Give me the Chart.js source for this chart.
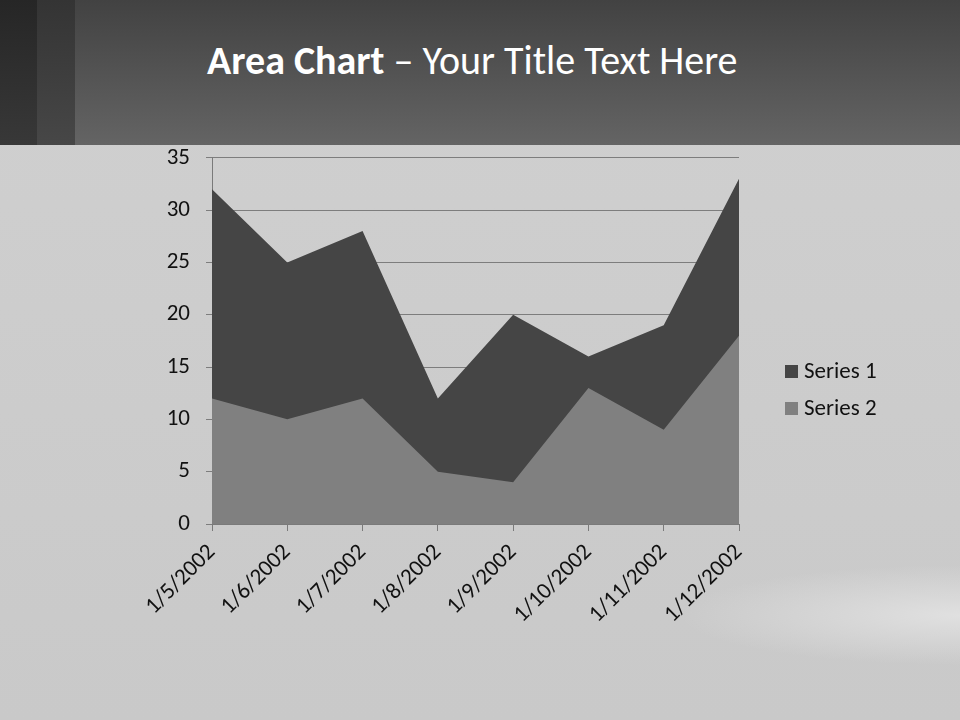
<!DOCTYPE html>
<html>
<head>
  <title>Area Chart</title>
  <script src="https://cdn.jsdelivr.net/npm/chart.js"></script>
  <style>
    body { margin: 0; width: 960px; height: 720px; position: relative; overflow: hidden;
      background: radial-gradient(ellipse 280px 50px at 960px 615px, #e0e0e0 0%, rgba(224,224,224,0) 100%),
                  linear-gradient(180deg, #d0d0d0 0%, #c9c9c9 100%);
      font-family: Carlito, Lato, sans-serif; }
    #header { position: absolute; left: 0; top: 0; width: 960px; height: 145px;
      background: linear-gradient(180deg, #424242 0%, #646464 100%); }
    #stripe1 { position: absolute; left: 0; top: 0; width: 37px; height: 145px;
      background: linear-gradient(180deg, #262626 0%, #383838 100%); }
    #stripe2 { position: absolute; left: 37px; top: 0; width: 38px; height: 145px;
      background: linear-gradient(180deg, #343434 0%, #474747 100%); }
    #title { position: absolute; left: 207px; top: 39px; color: #fff; font-size: 40px;
      white-space: nowrap; line-height: 44px; }
    #chartBox { position: absolute; left: 0; top: 128px; width: 960px; height: 592px; }
    #legend { position: absolute; left: 785px; top: 356px; font-size: 23px; color: #111; }
    #legend div { height: 37px; line-height: 28px; white-space: nowrap; }
    #legend span.sw { display: inline-block; width: 13px; height: 13px; margin-right: 6px; vertical-align: 0px; }
  </style>
</head>
<body>
  <div id="header"><div id="stripe1"></div><div id="stripe2"></div></div>
  <div id="title"><b>Area Chart</b> – Your Title Text Here</div>
  <div id="chartBox"><canvas id="areaChart"></canvas></div>
  <div id="legend"></div>

  <script>
    const labels = ['1/5/2002', '1/6/2002', '1/7/2002', '1/8/2002', '1/9/2002', '1/10/2002', '1/11/2002', '1/12/2002'];
    const series1 = [32, 25, 28, 12, 20, 16, 19, 33];
    const series2 = [12, 10, 12, 5, 4, 13, 9, 18];
    const seriesNames = ['Series 1', 'Series 2'];
    const seriesColors = ['#454545', '#808080'];
    const yTicks = [0, 5, 10, 15, 20, 25, 30, 35];

    const font = { family: 'Carlito, Lato, sans-serif', size: 23 };

    new Chart(document.getElementById('areaChart'), {
      type: 'line',
      data: {
        labels: labels,
        datasets: [
          { label: seriesNames[0], data: series1, fill: 'origin', backgroundColor: seriesColors[0],
            borderWidth: 0, pointRadius: 0, tension: 0, order: 2 },
          { label: seriesNames[1], data: series2, fill: 'origin', backgroundColor: seriesColors[1],
            borderWidth: 0, pointRadius: 0, tension: 0, order: 1 }
        ]
      },
      options: {
        responsive: true,
        maintainAspectRatio: false,
        animation: false,
        layout: { autoPadding: false, padding: { left: 140, right: 221, top: 12, bottom: 0 } },
        plugins: { legend: { display: false }, tooltip: { enabled: false } },
        scales: {
          x: {
            offset: false,
            grid: { display: true, drawOnChartArea: false, drawTicks: true, tickLength: 7, color: '#7a7a7a' },
            border: { display: true, color: '#7a7a7a' },
            ticks: { color: '#111', font: font, maxRotation: 45, minRotation: 45, padding: 8, autoSkip: false },
            afterFit(scale) { scale.height = 196; }
          },
          y: {
            min: 0, max: 35,
            afterBuildTicks(scale) { scale.ticks = yTicks.map(v => ({ value: v })); },
            grid: { color: '#7d7d7d', tickLength: 6, lineWidth: 1 },
            border: { display: true, color: '#7a7a7a' },
            ticks: { color: '#111', font: font, padding: 16 },
            afterFit(scale) { scale.width = 72; }
          }
        }
      }
    });

    const legend = document.getElementById('legend');
    seriesNames.forEach((name, i) => {
      const row = document.createElement('div');
      row.innerHTML = `<span class="sw" style="background:${seriesColors[i]}"></span>${name}`;
      legend.appendChild(row);
    });
  </script>
</body>
</html>
